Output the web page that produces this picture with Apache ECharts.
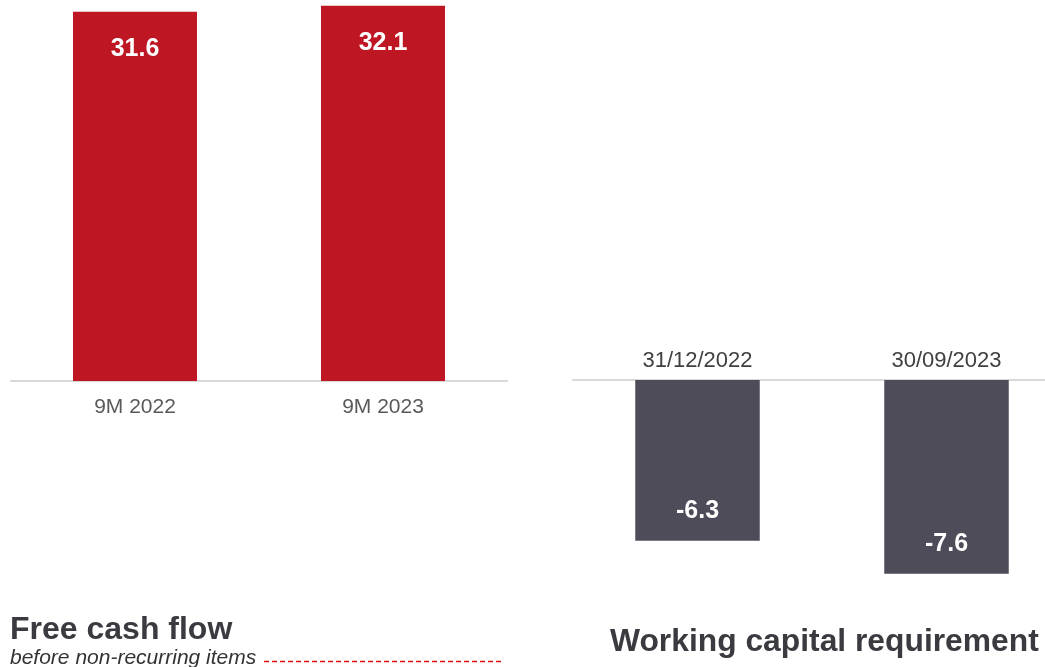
<!DOCTYPE html>
<html>
<head>
<meta charset="utf-8">
<script src="https://cdn.jsdelivr.net/npm/echarts@6/dist/echarts.min.js"></script>
<style>
  html, body { margin: 0; padding: 0; background: #ffffff; }
  #chart { width: 1045px; height: 667px; }
</style>
</head>
<body>
<div id="chart"></div>
<script>
// Free cash flow before non-recurring items (EUR m)
const fcfCategories = ['9M 2022', '9M 2023'];
const fcfValues = [31.6, 32.1];

// Working capital requirement (EUR m)
const wcrCategories = ['31/12/2022', '30/09/2023'];
const wcrValues = [-6.3, -7.6];

const RED = '#BE1622';
const SLATE = '#4F4C5A';
const FONT = 'Liberation Sans';

const chart = echarts.init(document.getElementById('chart'), null, { renderer: 'canvas' });

chart.setOption({
  animation: false,
  backgroundColor: '#ffffff',
  textStyle: { fontFamily: FONT },
  grid: [
    { left: 11, top: 0, width: 496, height: 381, outerBoundsMode: 'none' },
    { left: 573, top: 380, width: 498, height: 204, outerBoundsMode: 'none' }
  ],
  xAxis: [
    {
      gridIndex: 0, type: 'category', data: fcfCategories,
      axisLine: { lineStyle: { color: '#d9d9d9', width: 2 } },
      axisTick: { show: false },
      axisLabel: { color: '#595959', fontSize: 21, margin: 16, fontFamily: FONT }
    },
    {
      gridIndex: 1, type: 'category', data: wcrCategories, position: 'top',
      axisLine: { lineStyle: { color: '#d9d9d9', width: 2 } },
      axisTick: { show: false },
      axisLabel: { color: '#404040', fontSize: 22, margin: 8, fontFamily: FONT }
    }
  ],
  yAxis: [
    { gridIndex: 0, type: 'value', min: 0, max: 32.6, show: false, splitLine: { show: false } },
    { gridIndex: 1, type: 'value', min: -8, max: 0, show: false, splitLine: { show: false } }
  ],
  series: [
    {
      type: 'bar', xAxisIndex: 0, yAxisIndex: 0, data: fcfValues,
      barWidth: '50%',
      itemStyle: { color: RED },
      label: {
        show: true, position: 'insideTop', distance: 25,
        color: '#ffffff', fontSize: 25, fontWeight: 'bold', fontFamily: FONT,
        formatter: p => p.value.toFixed(1)
      }
    },
    {
      type: 'bar', xAxisIndex: 1, yAxisIndex: 1, data: wcrValues,
      barWidth: '50%',
      itemStyle: { color: SLATE },
      label: {
        show: true, position: 'insideBottom', distance: 17,
        color: '#ffffff', fontSize: 25, fontWeight: 'bold', fontFamily: FONT,
        formatter: p => p.value.toFixed(1)
      }
    }
  ],
  graphic: [
    {
      type: 'text', x: 10, y: 630,
      style: { text: 'Free cash flow', fontFamily: FONT, fontSize: 32, fontWeight: 'bold',
               fill: '#3a3a40', verticalAlign: 'middle' }
    },
    {
      type: 'text', x: 10, y: 658,
      style: { text: 'before non-recurring items', fontFamily: FONT, fontSize: 21, fontStyle: 'italic',
               fill: '#333333', verticalAlign: 'middle' }
    },
    {
      type: 'line',
      shape: { x1: 264, y1: 661.5, x2: 504, y2: 661.5 },
      style: { stroke: '#E30613', lineWidth: 1.3, lineDash: [5, 3] }
    },
    {
      type: 'text', x: 610, y: 642,
      style: { text: 'Working capital requirement', fontFamily: FONT, fontSize: 31.8, fontWeight: 'bold',
               fill: '#3a3a40', verticalAlign: 'middle' }
    }
  ]
});
</script>
</body>
</html>
